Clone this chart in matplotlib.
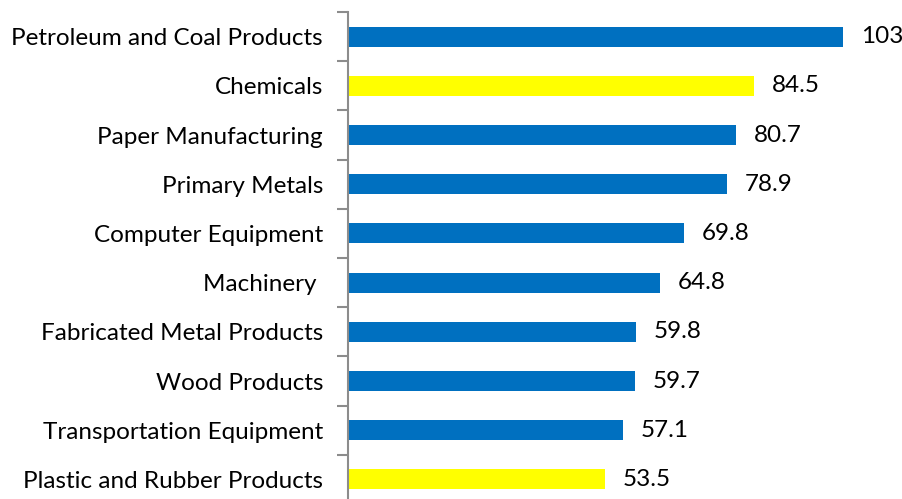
import matplotlib.pyplot as plt

# industries, top to bottom, with their values
industries = [
    "Petroleum and Coal Products",
    "Chemicals",
    "Paper Manufacturing",
    "Primary Metals",
    "Computer Equipment",
    "Machinery ",
    "Fabricated Metal Products",
    "Wood Products",
    "Transportation Equipment",
    "Plastic and Rubber Products",
]
values = [103, 84.5, 80.7, 78.9, 69.8, 64.8, 59.8, 59.7, 57.1, 53.5]
highlighted = ["Chemicals", "Plastic and Rubber Products"]

BLUE = "#0070C0"
YELLOW = "#FFFF00"
FONT_SIZE = 17.5

plt.rcParams["font.family"] = ["Lato", "DejaVu Sans"]

fig = plt.figure(figsize=(9.02, 4.99), dpi=100)
# axis box runs a little past the bottom edge of the figure
ax = fig.add_axes([348 / 902, (499 - 504) / 499, 553 / 902, 492 / 499])

ypos = list(range(len(industries)))
colors = [YELLOW if name in highlighted else BLUE for name in industries]
bars = ax.barh(ypos, values, height=0.41, color=colors)

for bar, v in zip(bars, values):
    ax.text(bar.get_width() + 3.7, bar.get_y() + bar.get_height() / 2,
            f"{v:g}", va="center", ha="left", fontsize=FONT_SIZE, color="black")

ax.set_xlim(0, 115)
ax.set_ylim(len(industries) - 0.5, -0.5)

# category labels sit between the boundary ticks
ax.set_yticks(ypos)
ax.set_yticklabels(industries, fontsize=FONT_SIZE)
ax.tick_params(axis="y", which="major", length=0, pad=18)
ax.set_yticks([i - 0.5 for i in range(len(industries) + 1)], minor=True)
ax.tick_params(axis="y", which="minor", length=8, width=1.5, color="#8C8C8C")

ax.set_xticks([])
for side in ["top", "right", "bottom"]:
    ax.spines[side].set_visible(False)
ax.spines["left"].set_color("#8C8C8C")
ax.spines["left"].set_linewidth(1.5)

fig.savefig("out.png", dpi=100)
